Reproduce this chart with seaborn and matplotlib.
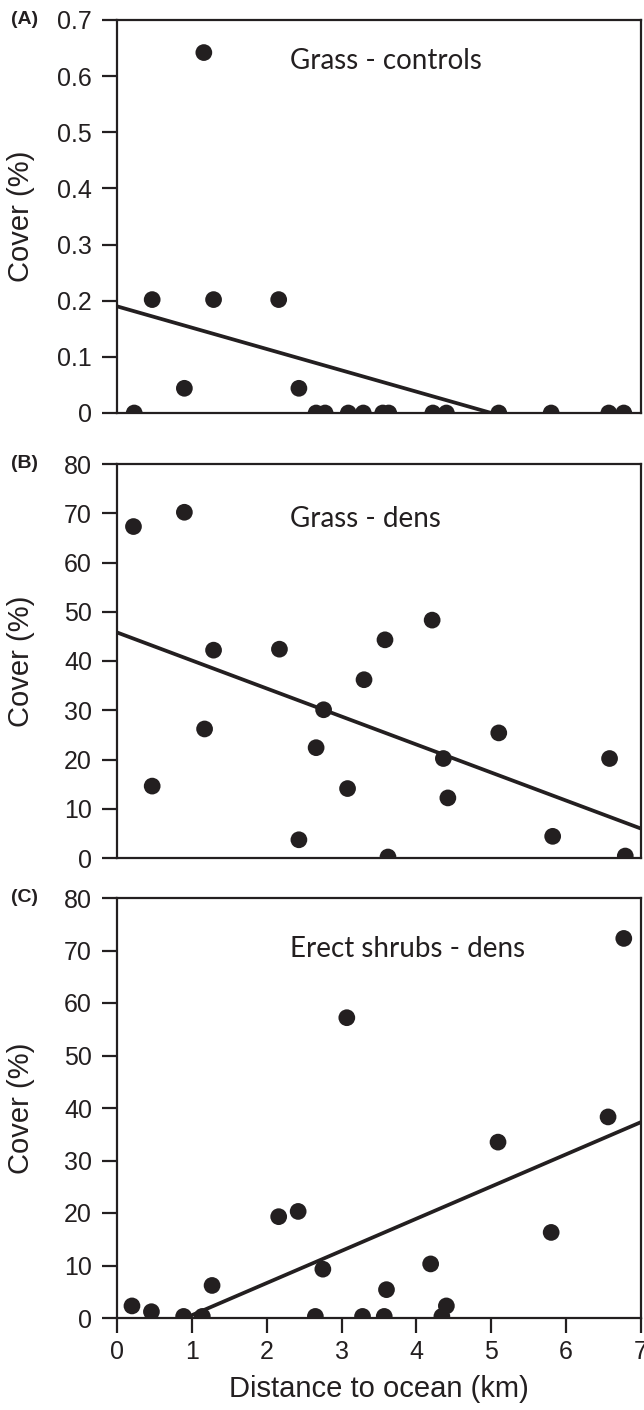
import numpy as np
import pandas as pd
import matplotlib
matplotlib.use("Agg")
import matplotlib.pyplot as plt
import seaborn as sns

# ---- data ----
a_x = [0.23, 0.47, 0.90, 1.16, 1.29, 2.16, 2.43, 2.66, 2.78, 3.09, 3.29, 3.55, 3.63,
       4.22, 4.40, 5.10, 5.80, 6.57, 6.77]
a_y = [0.0, 0.202, 0.044, 0.642, 0.202, 0.202, 0.044, 0.0, 0.0, 0.0, 0.0, 0.0, 0.0,
       0.0, 0.0, 0.0, 0.0, 0.0, 0.0]
a_fit = (0.19, -0.038)   # intercept, slope

b_x = [0.22, 0.47, 0.90, 1.17, 1.29, 2.17, 2.43, 2.66, 2.76, 3.08, 3.30, 3.58, 3.62,
       4.21, 4.36, 4.42, 5.10, 5.82, 6.58, 6.79]
b_y = [67.3, 14.6, 70.2, 26.2, 42.2, 42.4, 3.7, 22.4, 30.1, 14.1, 36.2, 44.3, 0.2,
       48.3, 20.2, 12.2, 25.4, 4.4, 20.2, 0.4]
b_fit = (45.8, -5.69)

c_x = [0.20, 0.46, 0.89, 1.14, 1.27, 2.16, 2.42, 2.65, 2.75, 3.07, 3.28, 3.57, 3.60,
       4.19, 4.34, 4.40, 5.09, 5.80, 6.56, 6.77]
c_y = [2.3, 1.2, 0.3, 0.3, 6.2, 19.3, 20.3, 0.3, 9.3, 57.2, 0.3, 0.3, 5.4,
       10.3, 0.3, 2.3, 33.5, 16.3, 38.3, 72.3]
c_fit = (-5.6, 6.13)

titles = ["Grass - controls", "Grass - dens", "Erect shrubs - dens"]
letters = ["(A)", "(B)", "(C)"]
a_ticks = [0, 0.1, 0.2, 0.3, 0.4, 0.5, 0.6, 0.7]
a_ticklabels = ["0", "0.1", "0.2", "0.3", "0.4", "0.5", "0.6", "0.7"]
bc_ticks = [0, 10, 20, 30, 40, 50, 60, 70, 80]
x_ticks = [0, 1, 2, 3, 4, 5, 6, 7]

sns.set_style("white")
plt.rcParams["font.family"] = ["Liberation Sans", "DejaVu Sans"]

INK = "#231f20"
fig = plt.figure(figsize=(6.44, 14.10), dpi=100)
W, H = 644, 1410
boxes = [(117, 20, 413), (117, 464, 858), (117, 898, 1318)]
axes = []
for (l, t, b) in boxes:
    ax = fig.add_axes([l / W, 1 - b / H, (641 - l) / W, (b - t) / H])
    axes.append(ax)

panels = [(a_x, a_y, a_fit, (0, 0.7), a_ticks, a_ticklabels),
          (b_x, b_y, b_fit, (0, 80), bc_ticks, [str(v) for v in bc_ticks]),
          (c_x, c_y, c_fit, (0, 80), bc_ticks, [str(v) for v in bc_ticks])]

title_y = [0.895, 0.86, 0.878]
for i, (ax, (xs, ys, fit, ylim, yt, ytl)) in enumerate(zip(axes, panels)):
    df = pd.DataFrame({"x": xs, "y": ys})
    sns.scatterplot(data=df, x="x", y="y", ax=ax, color=INK, s=145,
                    edgecolor="none", linewidth=0, zorder=3)
    b0, b1 = fit
    x0 = 0.0
    if b0 + b1 * x0 < 0:
        x0 = -b0 / b1
    x1 = 7.0
    if b0 + b1 * x1 < 0:
        x1 = -b0 / b1
    lx = np.linspace(x0, x1, 50)
    ldf = pd.DataFrame({"x": lx, "y": b0 + b1 * lx})
    sns.lineplot(data=ldf, x="x", y="y", ax=ax, color=INK, linewidth=2.7, zorder=2)

    ax.set_xlim(0, 7)
    ax.set_ylim(*ylim)
    ax.set_yticks(yt)
    ax.set_yticklabels(ytl)
    for sp in ax.spines.values():
        sp.set_visible(True)
        sp.set_color(INK)
        sp.set_linewidth(1.6)
    ax.tick_params(axis="y", direction="out", length=10.5, width=1.6, color=INK,
                   labelsize=18, labelcolor=INK, pad=7.5, left=True)
    ax.set_ylabel("Cover (%)", fontsize=21, color=INK)
    ax.yaxis.set_label_coords(-0.156, 0.5)
    if i < 2:
        ax.set_xticks([])
        ax.set_xlabel("")
    else:
        ax.set_xticks(x_ticks)
        ax.tick_params(axis="x", direction="out", length=10.5, width=1.6, color=INK,
                       labelsize=18, labelcolor=INK, pad=5, bottom=True)
        ax.set_xlabel("Distance to ocean (km)", fontsize=21, color=INK, labelpad=8)
    ax.text(0.33, title_y[i], titles[i], transform=ax.transAxes, fontsize=20,
            family=["Lato", "DejaVu Sans"], color=INK, va="center", ha="left")

letter_y = [20, 464, 898]
for ly, lt in zip(letter_y, letters):
    fig.text(11 / W, 1 - ly / H, lt, fontsize=14, fontweight="bold", color=INK,
             va="center", ha="left")

fig.savefig("out.png", dpi=100)
